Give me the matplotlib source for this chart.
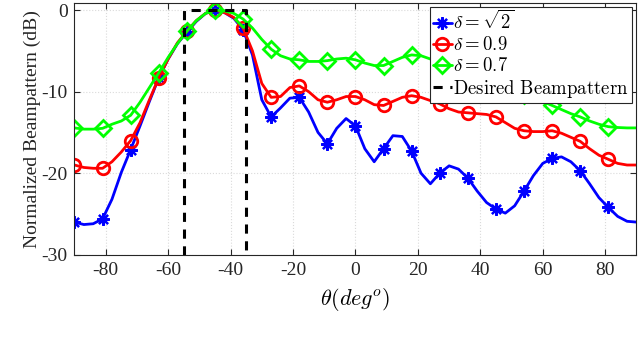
import numpy as np
import matplotlib
matplotlib.use("Agg")
import matplotlib.pyplot as plt

# angle grid (deg), values every 3 degrees
theta = np.arange(-90, 91, 3)

bp_sqrt2 = [-26.0, -26.3, -26.2, -25.6, -23.2, -19.9, -17.1, -14.2, -11.2, -8.3,
            -6.0, -4.1, -2.7, -1.4, -0.4, 0.0, -0.3, -1.0, -2.4, -5.5,
            -11.0, -13.1, -12.0, -10.8, -10.7, -12.5, -15.0, -16.4, -14.5, -13.3,
            -14.2, -17.0, -18.6, -17.0, -15.4, -15.5, -17.3, -20.0, -21.3, -20.0,
            -19.1, -19.5, -20.6, -22.2, -23.6, -24.4, -24.9, -24.0, -22.2, -20.3,
            -18.8, -18.2, -18.0, -18.6, -19.7, -21.3, -23.0, -24.2, -25.3, -25.9,
            -26.0]
bp_09 = [-19.0, -19.3, -19.4, -19.4, -18.6, -17.4, -16.0, -13.8, -11.0, -8.3,
         -6.0, -4.0, -2.6, -1.3, -0.4, 0.0, -0.3, -0.9, -2.2, -5.0,
         -9.0, -10.7, -10.6, -9.5, -9.3, -10.0, -11.0, -11.3, -11.0, -10.6,
         -10.6, -11.0, -11.6, -11.7, -11.2, -10.7, -10.5, -10.7, -11.1, -11.5,
         -12.1, -12.5, -12.6, -12.7, -12.8, -13.1, -13.8, -14.5, -14.8, -14.9,
         -14.9, -14.8, -15.1, -15.6, -16.1, -17.0, -17.8, -18.3, -18.8, -19.0,
         -19.0]
bp_07 = [-14.45, -14.6, -14.6, -14.5, -14.0, -13.6, -12.9, -11.3, -9.5, -7.7,
         -5.8, -4.1, -2.6, -1.3, -0.4, 0.0, -0.1, -0.4, -1.1, -2.2,
         -3.6, -4.8, -5.6, -6.0, -6.1, -6.3, -6.3, -6.2, -6.0, -5.9,
         -6.1, -6.5, -6.8, -6.8, -6.3, -5.8, -5.5, -5.6, -6.0, -6.4,
         -6.8, -7.2, -7.6, -8.0, -8.4, -8.8, -9.4, -9.9, -10.4, -10.8,
         -11.2, -11.7, -12.2, -12.7, -13.1, -13.6, -14.0, -14.3, -14.4, -14.45,
         -14.45]

# desired beampattern (rectangular mask)
des_x = [-55, -55, -35, -35]
des_y = [-30, 0, 0, -30]

plt.rcParams['font.family'] = ['Liberation Serif', 'DejaVu Serif']
plt.rcParams['mathtext.fontset'] = 'cm'
plt.rcParams['axes.unicode_minus'] = False

fig = plt.figure(figsize=(6.4, 3.41), dpi=100)
ax = fig.add_axes([0.1164, 0.253, 0.878, 0.739])

mk = slice(0, -1, 3)
common = dict(lw=2, markevery=mk, solid_joinstyle='round', solid_capstyle='round')
ax.plot(theta, bp_sqrt2, color=(0, 0, 1), marker=(8, 2, 0), ms=9, mew=1.6,
        label=r'$\delta = \sqrt{2}$', **common)
ax.plot(theta, bp_09, color=(1, 0, 0), marker='o', ms=9, mew=2, mfc='none',
        label=r'$\delta = 0.9$', **common)
ax.plot(theta, bp_07, color=(0, 1, 0), marker='D', ms=8, mew=2, mfc='none',
        label=r'$\delta = 0.7$', **common)
ax.plot(des_x, des_y, color='k', lw=2.2, ls=(0, (3, 2.5)),
        label=r'$\mathrm{Desired\ Beampattern}$')

ax.set_xlim(-90, 90)
ax.set_ylim(-30, 0.9)
ax.set_xticks(np.arange(-80, 81, 20))
ax.set_yticks([-30, -20, -10, 0])
ax.grid(True, ls=':', color='#dadada', lw=0.8)
ax.tick_params(direction='in', top=True, right=True, labelsize=14,
               colors='#262626', length=4, pad=5)
for s in ax.spines.values():
    s.set_color('#262626')
    s.set_linewidth(0.8)

ax.set_xlabel(r'$\theta(deg^o)$', fontsize=16, labelpad=5)
ax.set_ylabel('Normalized Beampattern (dB)', fontsize=14, color='#262626', labelpad=0)

leg = ax.legend(loc='upper right', fontsize=13.5, handlelength=1.0, handletextpad=0.1,
                borderpad=0.15, labelspacing=0.15, borderaxespad=0.25,
                fancybox=False, framealpha=1, edgecolor='#262626')
leg.get_frame().set_linewidth(0.8)

fig.savefig('out.png', dpi=100)
